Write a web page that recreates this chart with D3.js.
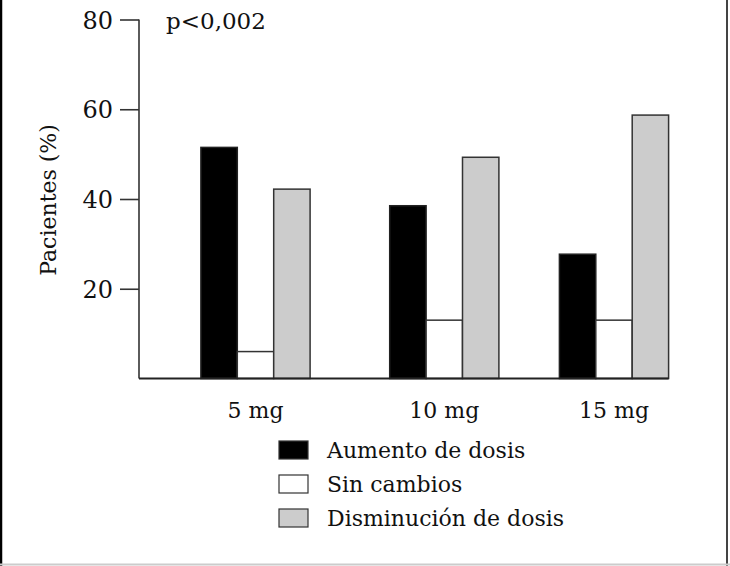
<!DOCTYPE html>
<html>
<head>
<meta charset="utf-8">
<script src="https://cdn.jsdelivr.net/npm/d3@7"></script>
<style>
  html, body { margin: 0; padding: 0; background: #fff; }
  svg { display: block; }
  text { font-family: "DejaVu Serif", serif; fill: #111; }
</style>
</head>
<body>
<svg id="chart" width="730" height="566"></svg>
<script>
const categories = ["5 mg", "10 mg", "15 mg"];
const seriesNames = ["Aumento de dosis", "Sin cambios", "Disminución de dosis"];
const aumento = [51.5, 38.5, 27.7];
const sinCambios = [6, 13, 13];
const disminucion = [42.2, 49.3, 58.7];
const yTicks = [20, 40, 60, 80];
const seriesColors = ["#000000", "#ffffff", "#cccccc"];
const annotation = "p<0,002";
const yTitle = "Pacientes (%)";

const series = [aumento, sinCambios, disminucion];
const svg = d3.select("#chart");
const W = 730, H = 566;
const fontSize = 22;

// frame
svg.append("line").attr("x1", 1).attr("x2", 1).attr("y1", 0).attr("y2", H).attr("stroke", "#000").attr("stroke-width", 2.5);
svg.append("line").attr("x1", 727).attr("x2", 727).attr("y1", 0).attr("y2", H).attr("stroke", "#444").attr("stroke-width", 2);
svg.append("line").attr("x1", 0).attr("x2", W).attr("y1", 564.5).attr("y2", 564.5).attr("stroke", "#ccc").attr("stroke-width", 2);

const axisX = 139, baseY = 378.5;
const y = d3.scaleLinear().domain([0, 80]).range([baseY, 19.5]);

// group centres (irregular spacing in the original)
const xGroup = d3.scaleOrdinal().domain(categories).range([255.5, 444.3, 614]);
const barW = 36.4;
const xInner = d3.scaleBand().domain(d3.range(seriesNames.length)).range([-barW * 1.5, barW * 1.5]).padding(0);

// y axis
const yAxis = d3.axisLeft(y).tickValues(yTicks).tickSize(19).tickPadding(7).tickSizeOuter(0);
const gy = svg.append("g").attr("transform", `translate(${axisX},0)`).call(yAxis);
gy.select(".domain").attr("stroke", "#333").attr("stroke-width", 1.6).attr("d", `M0,${y(80)}V${baseY}`);
gy.selectAll(".tick line").attr("stroke", "#333").attr("stroke-width", 1.6);
gy.selectAll(".tick text").attr("font-family", "DejaVu Serif").attr("font-size", 24).attr("fill", "#111").attr("dy", "0.36em");

// bars
const groups = svg.append("g").selectAll("g").data(categories).join("g")
  .attr("transform", d => `translate(${xGroup(d)},0)`);
groups.selectAll("rect").data((c, i) => series.map((s, k) => ({ k, v: s[i] }))).join("rect")
  .attr("x", d => xInner(d.k))
  .attr("y", d => y(d.v))
  .attr("width", xInner.bandwidth())
  .attr("height", d => baseY - y(d.v))
  .attr("fill", d => seriesColors[d.k])
  .attr("stroke", d => d.k === 0 ? "#222" : "#333")
  .attr("stroke-width", 1.5);

// x axis line
const lastRight = xGroup(categories[categories.length - 1]) + barW * 1.5;
svg.append("line").attr("x1", axisX).attr("x2", lastRight).attr("y1", baseY).attr("y2", baseY)
  .attr("stroke", "#222").attr("stroke-width", 2);

// category labels
svg.append("g").selectAll("text").data(categories).join("text")
  .attr("x", d => xGroup(d)).attr("y", 418)
  .attr("text-anchor", "middle").attr("font-size", fontSize)
  .text(d => d);

// annotation
svg.append("text").attr("x", 166).attr("y", 29).attr("font-size", 23).text(annotation);

// y title
svg.append("text").attr("transform", "translate(56,200) rotate(-90)")
  .attr("text-anchor", "middle").attr("font-size", fontSize).text(yTitle);

// legend
const legend = svg.append("g").attr("transform", "translate(279,441)");
const li = legend.selectAll("g").data(seriesNames).join("g")
  .attr("transform", (d, i) => `translate(0,${i * 34})`);
li.append("rect").attr("width", 29).attr("height", 18)
  .attr("fill", (d, i) => seriesColors[i]).attr("stroke", "#333").attr("stroke-width", 1.2);
li.append("text").attr("x", 48).attr("y", 17).attr("font-size", fontSize).text(d => d);
</script>
</body>
</html>
